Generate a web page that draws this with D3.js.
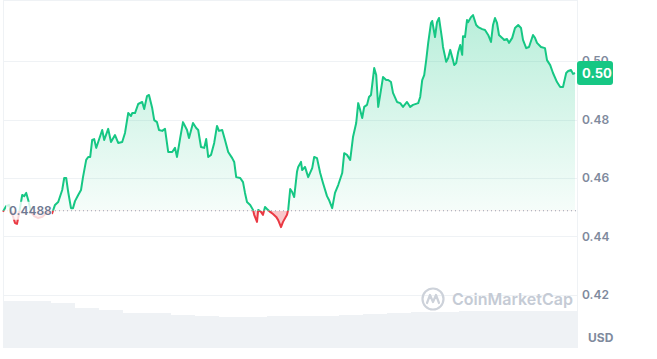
<!DOCTYPE html>
<html>
<head>
<meta charset="utf-8">
<script src="https://cdn.jsdelivr.net/npm/d3@7"></script>
<style>
  body { margin: 0; background: #fff; }
  svg { display: block; font-family: Inter, "Noto Sans", sans-serif; }
</style>
</head>
<body>
<div id="chart"></div>
<script>
// price, minutes from start of the 24h window
var times = [0, 8, 15, 23, 30, 35, 40, 48, 53, 58, 63, 70, 78, 88, 98, 108, 115, 123, 130, 138,
  148, 153, 158, 163, 170, 175, 180, 188, 195, 200, 208, 213, 218, 223, 228, 233, 238, 248, 253, 263,
  270, 280, 288, 298, 305, 313, 320, 323, 330, 338, 348, 353, 360, 365, 373, 378, 385, 390, 398, 405,
  413, 423, 430, 435, 443, 450, 460, 465, 475, 483, 488, 495, 503, 508, 513, 520, 528, 535, 540, 548,
  555, 563, 573, 578, 583, 593, 600, 605, 610, 618, 625, 628, 635, 638, 645, 650, 655, 660, 668, 675,
  683, 688, 695, 700, 710, 713, 718, 723, 728, 735, 738, 745, 748, 755, 763, 773, 778, 785, 793, 800,
  810, 815, 823, 830, 838, 848, 853, 860, 868, 875, 883, 888, 893, 898, 903, 910, 915, 920, 928, 933,
  938, 943, 950, 958, 963, 970, 975, 985, 993, 1000, 1010, 1018, 1025, 1038, 1043, 1048, 1053, 1058, 1063, 1070,
  1073, 1080, 1085, 1090, 1098, 1100, 1108, 1113, 1118, 1125, 1128, 1133, 1138, 1143, 1148, 1150, 1155, 1160, 1163, 1170,
  1175, 1183, 1188, 1198, 1205, 1213, 1220, 1225, 1230, 1235, 1240, 1248, 1253, 1260, 1265, 1273, 1280, 1288, 1295, 1300,
  1308, 1315, 1325, 1330, 1335, 1345, 1355, 1360, 1368, 1375, 1385, 1393, 1400, 1408, 1413, 1420, 1425, 1430];

var prices = [0.4485, 0.4504, 0.4508, 0.4477, 0.4446, 0.4443, 0.4477, 0.4542, 0.4538, 0.4549, 0.4525, 0.4484, 0.4470, 0.4463, 0.4467, 0.4480, 0.4487, 0.4480, 0.4508, 0.4518,
  0.4559, 0.4600, 0.4600, 0.4552, 0.4497, 0.4497, 0.4521, 0.4542, 0.4559, 0.4603, 0.4662, 0.4672, 0.4672, 0.4730, 0.4733, 0.4703, 0.4723, 0.4764, 0.4730, 0.4768,
  0.4723, 0.4747, 0.4720, 0.4723, 0.4754, 0.4822, 0.4812, 0.4822, 0.4822, 0.4853, 0.4860, 0.4836, 0.4880, 0.4884, 0.4839, 0.4798, 0.4791, 0.4764, 0.4761, 0.4768,
  0.4689, 0.4689, 0.4703, 0.4672, 0.4737, 0.4791, 0.4764, 0.4737, 0.4788, 0.4771, 0.4764, 0.4706, 0.4703, 0.4733, 0.4672, 0.4679, 0.4720, 0.4778, 0.4761, 0.4764,
  0.4730, 0.4689, 0.4668, 0.4655, 0.4603, 0.4600, 0.4586, 0.4549, 0.4518, 0.4508, 0.4491, 0.4474, 0.4450, 0.4491, 0.4484, 0.4474, 0.4501, 0.4494, 0.4484, 0.4477,
  0.4467, 0.4456, 0.4432, 0.4450, 0.4474, 0.4491, 0.4562, 0.4552, 0.4535, 0.4621, 0.4638, 0.4655, 0.4627, 0.4638, 0.4603, 0.4634, 0.4672, 0.4668, 0.4617, 0.4583,
  0.4538, 0.4525, 0.4497, 0.4549, 0.4576, 0.4617, 0.4685, 0.4679, 0.4662, 0.4740, 0.4788, 0.4856, 0.4832, 0.4805, 0.4843, 0.4850, 0.4877, 0.4884, 0.4976, 0.4952,
  0.4843, 0.4884, 0.4945, 0.4935, 0.4935, 0.4928, 0.4891, 0.4860, 0.4856, 0.4843, 0.4860, 0.4843, 0.4850, 0.4856, 0.4877, 0.4935, 0.4952, 0.5003, 0.5062, 0.5130,
  0.5137, 0.5082, 0.5133, 0.5147, 0.5072, 0.5048, 0.4997, 0.5010, 0.5038, 0.5003, 0.4986, 0.4993, 0.5031, 0.5055, 0.5021, 0.5085, 0.5082, 0.5140, 0.5133, 0.5150,
  0.5157, 0.5123, 0.5116, 0.5109, 0.5106, 0.5089, 0.5065, 0.5123, 0.5147, 0.5130, 0.5089, 0.5079, 0.5072, 0.5075, 0.5062, 0.5079, 0.5113, 0.5123, 0.5113, 0.5072,
  0.5044, 0.5048, 0.5089, 0.5079, 0.5062, 0.5048, 0.5044, 0.5003, 0.4986, 0.4959, 0.4928, 0.4911, 0.4911, 0.4959, 0.4966, 0.4969, 0.4956, 0.4959];

// hourly volume (arbitrary units)
var volTimes = [0, 60, 120, 180, 240, 300, 360, 420, 480, 540, 600, 660, 720, 780, 840, 900, 960, 1020, 1080, 1140, 1200, 1260, 1320, 1380, 1435];
var volumes = [47, 47, 45, 40, 38, 35, 35, 33, 32, 31, 31, 32, 32, 32, 33, 34, 35, 36, 36, 37, 37, 37, 37, 37, 37];

var yTicks = [0.42, 0.44, 0.46, 0.48, 0.50];
var openPrice = 0.4488;
var currency = "USD";

var width = 657, height = 359;
var plot = {left: 3, right: 577, top: 1, bottom: 348};

var svg = d3.select("#chart")
  .append("svg")
    .attr("width", width)
    .attr("height", height);

var data = times.map(function(t, i) { return {t: t, p: prices[i]}; });
var volData = volTimes.map(function(t, i) { return {t: t, v: volumes[i]}; });

var xScale = d3.scaleLinear().domain([0, 1435]).range([plot.left, plot.right]);
var yScale = d3.scaleLinear().domain([0.42, 0.50]).range([295, 61]);
var vScale = d3.scaleLinear().domain([0, 50]).range([plot.bottom, 298]);
var baseY = yScale(openPrice);

// frame + grid
var frame = svg.append("g").attr("stroke", "#eff2f5").attr("stroke-width", 1);
frame.append("line").attr("x1", plot.left).attr("x2", plot.right).attr("y1", 0.5).attr("y2", 0.5);
frame.append("line").attr("x1", plot.left + 0.5).attr("x2", plot.left + 0.5).attr("y1", 0).attr("y2", plot.bottom);
frame.append("line").attr("x1", plot.right + 0.5).attr("x2", plot.right + 0.5).attr("y1", 0).attr("y2", plot.bottom);
frame.selectAll(".grid")
  .data(yTicks)
  .enter().append("line")
    .attr("class", "grid")
    .attr("x1", plot.left)
    .attr("x2", plot.right)
    .attr("y1", function(d) { return Math.round(yScale(d)) + 0.5; })
    .attr("y2", function(d) { return Math.round(yScale(d)) + 0.5; });

// volume
svg.append("path")
  .datum(volData)
  .attr("fill", "#eff2f5")
  .attr("d", d3.area()
    .curve(d3.curveStepAfter)
    .x(function(d) { return xScale(d.t); })
    .y0(plot.bottom)
    .y1(function(d) { return vScale(d.v); }));

// watermark
var wm = svg.append("g").attr("transform", "translate(433,299)");
wm.append("circle").attr("r", 10.5).attr("fill", "none").attr("stroke", "#cdd2da").attr("stroke-width", 2.2);
wm.append("path")
  .attr("d", "M-6,4 L-3,-4 L0,3 L3,-4 L6,4")
  .attr("fill", "none").attr("stroke", "#cdd2da").attr("stroke-width", 2.2)
  .attr("stroke-linejoin", "round").attr("stroke-linecap", "round");
svg.append("text")
  .attr("x", 452)
  .attr("y", 299)
  .attr("dy", "0.35em")
  .attr("fill", "#c5cbd5")
  .style("font-size", "16px")
  .style("font-weight", 600)
  .text("CoinMarketCap");

// fills and clips
var defs = svg.append("defs");
var grad = defs.append("linearGradient")
  .attr("id", "greenFill")
  .attr("gradientUnits", "userSpaceOnUse")
  .attr("x1", 0).attr("x2", 0)
  .attr("y1", yScale(0.516)).attr("y2", baseY);
grad.append("stop").attr("offset", "0%").attr("stop-color", "#16c784").attr("stop-opacity", 0.3);
grad.append("stop").attr("offset", "100%").attr("stop-color", "#16c784").attr("stop-opacity", 0.04);

defs.append("clipPath").attr("id", "above")
  .append("rect").attr("x", 0).attr("y", 0).attr("width", width).attr("height", baseY);
defs.append("clipPath").attr("id", "below")
  .append("rect").attr("x", 0).attr("y", baseY).attr("width", width).attr("height", height - baseY);

var area = d3.area()
  .x(function(d) { return xScale(d.t); })
  .y0(baseY)
  .y1(function(d) { return yScale(d.p); });

var line = d3.line()
  .x(function(d) { return xScale(d.t); })
  .y(function(d) { return yScale(d.p); });

svg.append("path").datum(data)
  .attr("clip-path", "url(#above)")
  .attr("fill", "url(#greenFill)")
  .attr("d", area);
svg.append("path").datum(data)
  .attr("clip-path", "url(#below)")
  .attr("fill", "#ea3943")
  .attr("fill-opacity", 0.28)
  .attr("d", area);

// baseline
svg.append("line")
  .attr("x1", plot.left).attr("x2", plot.right)
  .attr("y1", baseY).attr("y2", baseY)
  .attr("stroke", "#9aa1b1")
  .attr("stroke-width", 1)
  .attr("stroke-dasharray", "1,3");

svg.append("path").datum(data)
  .attr("clip-path", "url(#above)")
  .attr("fill", "none")
  .attr("stroke", "#16c784")
  .attr("stroke-width", 2)
  .attr("stroke-linejoin", "round")
  .attr("d", line);
svg.append("path").datum(data)
  .attr("clip-path", "url(#below)")
  .attr("fill", "none")
  .attr("stroke", "#ea3943")
  .attr("stroke-width", 2)
  .attr("stroke-linejoin", "round")
  .attr("d", line);

// open price label
svg.append("rect")
  .attr("x", 6).attr("y", baseY - 9)
  .attr("width", 46).attr("height", 18)
  .attr("rx", 2)
  .attr("fill", "#fff")
  .attr("fill-opacity", 0.8);
svg.append("text")
  .attr("x", 9)
  .attr("y", baseY)
  .attr("dy", "0.35em")
  .attr("fill", "#6e7891")
  .style("font-size", "12px")
  .style("font-weight", 600)
  .text(d3.format(".4f")(openPrice));

// y axis
var yAxis = svg.append("g")
  .attr("transform", "translate(" + plot.right + ",0)")
  .call(d3.axisRight(yScale).tickValues(yTicks).tickFormat(d3.format(".2f")).tickSize(0).tickPadding(5));
yAxis.select(".domain").remove();
yAxis.selectAll("text")
  .attr("fill", "#808a9d")
  .style("font-family", "Inter, sans-serif")
  .style("font-size", "12px")
  .style("font-weight", 600);

// last price tag
var last = data[data.length - 1];
svg.append("rect")
  .attr("x", plot.right)
  .attr("y", yScale(last.p) - 12)
  .attr("width", 36).attr("height", 24)
  .attr("rx", 3)
  .attr("fill", "#16c784");
svg.append("text")
  .attr("x", plot.right + 5)
  .attr("y", yScale(last.p))
  .attr("dy", "0.35em")
  .attr("fill", "#fff")
  .style("font-size", "13px")
  .style("font-weight", 700)
  .text(d3.format(".2f")(last.p));

svg.append("text")
  .attr("x", 588)
  .attr("y", 338)
  .attr("dy", "0.35em")
  .attr("fill", "#808a9d")
  .style("font-size", "12px")
  .style("font-weight", 700)
  .text(currency);
</script>
</body>
</html>
